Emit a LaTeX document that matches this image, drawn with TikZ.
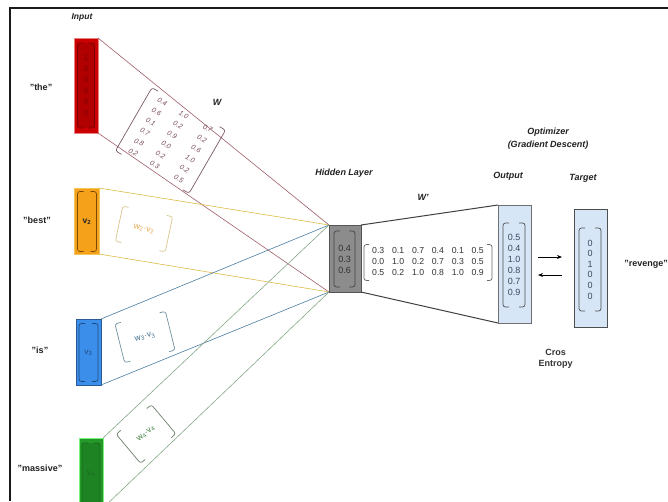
\documentclass[tikz,border=0pt]{standalone}
\usepackage{fontspec}
\setmainfont{Liberation Sans}
\usetikzlibrary{calc,arrows.meta}

\definecolor{labelc}{HTML}{222222}
\definecolor{framec}{HTML}{1A1A1A}
% input vectors
\definecolor{redF}{HTML}{CC0000}
\definecolor{redB}{HTML}{E88080}
\definecolor{redD}{HTML}{B00000}
\definecolor{redK}{HTML}{7A0000}
\definecolor{orgF}{HTML}{F6A11A}
\definecolor{orgB}{HTML}{F2C45A}
\definecolor{orgK}{HTML}{7A4A08}
\definecolor{bluF}{HTML}{3B8EEA}
\definecolor{bluB}{HTML}{2C5A96}
\definecolor{bluK}{HTML}{1E4A80}
\definecolor{grnF}{HTML}{24992A}
\definecolor{grnB}{HTML}{7CF07C}
\definecolor{grnK}{HTML}{176A1A}
% projection bands
\definecolor{redL}{HTML}{A0606A}
\definecolor{orgL}{HTML}{DDBB48}
\definecolor{bluL}{HTML}{4A7DA0}
\definecolor{grnL}{HTML}{86A886}
% weighted products
\definecolor{wTwo}{HTML}{E8A848}
\definecolor{wTwoB}{HTML}{D9C48A}
\definecolor{wThr}{HTML}{3F6F8F}
\definecolor{wThrB}{HTML}{6F8F9F}
\definecolor{wFou}{HTML}{3E7E3E}
\definecolor{wFouB}{HTML}{6A806A}
\definecolor{wTxt}{HTML}{7A4A5A}
\definecolor{wBrk}{HTML}{7A5A66}
% hidden / output
\definecolor{hidF}{HTML}{8C8C8C}
\definecolor{hidB}{HTML}{555555}
\definecolor{outF}{HTML}{D6E6F7}
\definecolor{outB}{HTML}{707070}
\definecolor{numc}{HTML}{333333}
\definecolor{outN}{HTML}{3A4A60}

% square brackets with rounded ends around a node's border
\newcommand\drawbrackets[3]{%
  \draw[#1] ($(#2.north west)!#3!(#2.north east)$) -- (#2.north west)
     -- (#2.south west) -- ($(#2.south west)!#3!(#2.south east)$);
  \draw[#1] ($(#2.north east)!#3!(#2.north west)$) -- (#2.north east)
     -- (#2.south east) -- ($(#2.south east)!#3!(#2.south west)$);
}

\begin{document}
\begin{tikzpicture}[x=1pt, y=-1pt,
  every node/.style={inner sep=0pt, outer sep=0pt},
  lbl/.style={font=\fontsize{9}{11}\selectfont\bfseries\itshape, text=labelc},
  word/.style={font=\fontsize{9}{11}\selectfont\bfseries, text=labelc},
  vecbox/.style={line width=0.6pt},
  brk/.style={line width=0.7pt, rounded corners=2.5pt},
  band/.style={line width=0.6pt},
  num/.style={font=\fontsize{9}{11}\selectfont, align=center},
  prod/.style={transform shape, font=\fontsize{8.5}{9}\selectfont}
]
\useasboundingbox (0,0) rectangle (668,501);
\fill[white] (0,0) rectangle (668,501);

% frame
\draw[framec, line width=1.4pt] (10,501) -- (10,8) -- (668,8);

% ---------- input one-hot vectors ----------
\node[vecbox, draw=redB, fill=redF, minimum width=24, minimum height=95] (the) at (86,85.5) {};
\node[fill=redD, minimum width=17, minimum height=85, align=center,
      font=\fontsize{7.5}{11}\selectfont, text=redK] (thev) at (86,85.5) {1\\0\\0\\0\\0\\0};
\drawbrackets{brk, redK}{thev}{6pt}

\node[vecbox, draw=orgB, fill=orgF, minimum width=25, minimum height=66] (best) at (86.5,221) {};
\node[minimum width=19, minimum height=60, font=\fontsize{8.5}{10}\selectfont\bfseries, text=labelc]
      (bestv) at (87,221.5) {v\textsubscript{2}};
\drawbrackets{brk, orgK}{bestv}{6pt}

\node[vecbox, draw=bluB, fill=bluF, minimum width=25, minimum height=66] (is) at (88.5,352) {};
\node[minimum width=19, minimum height=58, font=\fontsize{8.5}{10}\selectfont, text=bluK]
      (isv) at (88.5,352.5) {v\textsubscript{3}};
\drawbrackets{brk, bluK}{isv}{6pt}

\node[vecbox, draw=grnB, fill=grnF, minimum width=24, minimum height=70] (massive) at (91,473) {};
\node[fill=grnK!45!grnF, minimum width=18, minimum height=62, font=\fontsize{8.5}{10}\selectfont, text=grnK]
      (massivev) at (91,474) {v\textsubscript{4}};
\drawbrackets{brk, grnK}{massivev}{6pt}

% ---------- hidden layer ----------
\node[draw=hidB, fill=hidF, line width=0.7pt, minimum width=32, minimum height=67] (hid) at (345,258.5) {};

% projection bands into the hidden layer
\draw[band, redL] (the.north east) -- (hid.north west);
\draw[band, redL] (the.south east) -- (hid.south west);
\draw[band, orgL] (best.north east) -- (hid.north west);
\draw[band, orgL] (best.south east) -- (hid.south west);
\draw[band, bluL] (is.north east) -- (hid.north west);
\draw[band, bluL] (is.south east) -- (hid.south west);
\draw[band, grnL] (massive.north east) -- (hid.north west);
\draw[band, grnL] (massive.south east) -- (hid.south west);

% redraw the hidden box above the bands
\node[draw=hidB, fill=hidF, line width=0.7pt, minimum width=32, minimum height=67] at (hid) {};
\node[num, text=numc, minimum width=21, minimum height=56] (hidv) at (344.5,259) {0.4\\0.3\\0.6};
\drawbrackets{brk, hidB!80!black}{hidv}{6pt}

% ---------- W matrix ----------
\begin{scope}[shift={(170.5,140.5)}, rotate=-30]
  \node[transform shape, minimum width=85, minimum height=73,
        font=\fontsize{7}{11.6}\selectfont\itshape, text=wTxt] (Wm) at (0,0)
  {\begin{tabular}{@{}c@{\hspace{15pt}}c@{\hspace{18pt}}c@{}}
   0.4 & 1.0 & 0.7\\
   0.6 & 0.2 & 0.2\\
   0.1 & 0.9 & 0.6\\
   0.7 & 0.0 & 1.0\\
   0.8 & 0.2 & 0.2\\
   0.2 & 0.3 & 0.5
   \end{tabular}};
\end{scope}
\drawbrackets{brk, wBrk}{Wm}{7pt}

% ---------- weighted products ----------
\begin{scope}[shift={(144,229)}, rotate=-12]
  \node[prod, text=wTwo, minimum width=51, minimum height=36] (wtwo) at (0,0)
        {w\textsubscript{2}·v\textsubscript{2}};
\end{scope}
\drawbrackets{brk, wTwoB}{wtwo}{6pt}

\begin{scope}[shift={(145,337)}, rotate=14]
  \node[prod, text=wThr, minimum width=52, minimum height=40] (wthr) at (0,0)
        {w\textsubscript{3}·v\textsubscript{3}};
\end{scope}
\drawbrackets{brk, wThrB}{wthr}{6pt}

\begin{scope}[shift={(146,434)}, rotate=40]
  \node[prod, text=wFou, minimum width=46, minimum height=38] (wfou) at (0,0)
        {w\textsubscript{4}·v\textsubscript{4}};
\end{scope}
\drawbrackets{brk, wFouB}{wfou}{6pt}

% ---------- output and target ----------
\node[draw=outB, fill=outF, line width=0.8pt, minimum width=33, minimum height=118] (out) at (514.5,264) {};
\node[num, text=outN, minimum width=22, minimum height=84] (outv) at (514,265)
      {0.5\\0.4\\1.0\\0.8\\0.7\\0.9};
\drawbrackets{brk, outB!70!black}{outv}{6pt}

\node[draw=outB!70!black, fill=outF, line width=0.8pt, minimum width=33, minimum height=118] (tgt) at (590.5,268) {};
\node[font=\fontsize{9}{10.6}\selectfont, align=center, text=outN, minimum width=22, minimum height=83]
      (tgtv) at (590,269.5) {0\\0\\1\\0\\0\\0};
\drawbrackets{brk, outB!70!black}{tgtv}{6pt}

% W' projection
\draw[line width=1pt, black!75] (hid.north east) -- (out.north west);
\draw[line width=1pt, black!75] (hid.south east) -- (out.south west);

\node[font=\fontsize{8.7}{10.7}\selectfont, text=numc, minimum width=128, minimum height=36] (Wp) at (428,262.5)
  {\begin{tabular}{@{}c@{\hspace{7.8pt}}c@{\hspace{7.8pt}}c@{\hspace{7.8pt}}c@{\hspace{7.8pt}}c@{\hspace{7.8pt}}c@{}}
   0.3 & 0.1 & 0.7 & 0.4 & 0.1 & 0.5\\
   0.0 & 1.0 & 0.2 & 0.7 & 0.3 & 0.5\\
   0.5 & 0.2 & 1.0 & 0.8 & 1.0 & 0.9
   \end{tabular}};
\drawbrackets{brk, black!60}{Wp}{5pt}

% forward / backward arrows between output and target
\draw[line width=0.8pt, -{Stealth[length=5pt, width=4pt]}]
  ($(out.east)+(7,-7)$) -- ($(tgt.west)+(-12,-11)$);
\draw[line width=0.8pt, -{Stealth[length=5pt, width=4pt]}]
  ($(tgt.west)+(-12,7)$) -- ($(out.east)+(7,11)$);

% ---------- labels ----------
\node[lbl, font=\fontsize{8.5}{10}\selectfont\bfseries\itshape] (inputlbl) at (82,17) {Input};
\node[lbl] (wlbl) at (217,102) {W};
\node[lbl] (hidlbl) at (344,173) {Hidden Layer};
\node[lbl] (wplbl) at (423,197) {W'};
\node[lbl] (outlbl) at (508,176) {Output};
\node[lbl] (tgtlbl) at (583,178) {Target};
\node[lbl, align=center, font=\fontsize{9}{13}\selectfont\bfseries\itshape] (optlbl) at (548,138.5)
      {Optimizer\\(Gradient Descent)};
\node[word, align=center, text=numc, font=\fontsize{9}{11.5}\selectfont\bfseries] (lossl) at (555.5,359) {Cros\\Entropy};

\node[word] (thew) at (41,87) {"the"};
\node[word] (bestw) at (37,220) {"best"};
\node[word] (isw) at (40,350) {"is"};
\node[word] (massw) at (40,468) {"massive"};
\node[word] (revw) at (646,264) {"revenge"};
\end{tikzpicture}
\end{document}
